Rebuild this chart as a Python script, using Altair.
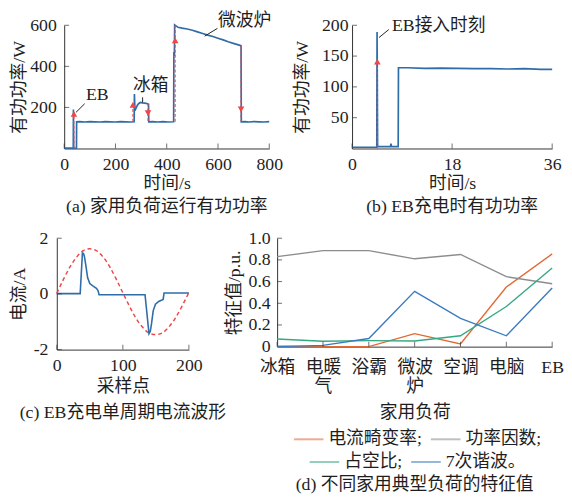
import altair as alt
import pandas as pd

FONT = "Liberation Serif, Noto Sans CJK SC"
TXT = "#1e1e1e"
AXC = "#333333"
BLUE = "#2f6da8"
RED = "#ef4646"
ORANGE = "#e06a35"
GRAY = "#8c8c8c"
GREEN = "#36a882"
BLUE2 = "#3a7bc0"
FS = 18

# ---------------- (a) household load active power ----------------
a_time = [0, 20, 35.5, 36, 37, 48, 48.5, 60, 80, 100, 120, 140, 160, 180, 200, 220, 240, 260, 273,
          274, 276, 280, 285, 290, 297, 305, 315, 325, 329, 330, 345, 365, 385, 405, 427,
          428, 430, 431, 444, 460, 480, 500, 520, 540, 560, 580, 600, 620, 640, 660, 686, 690,
          691, 705, 720, 740, 760, 780, 800]
a_power = [2, 2, 2, 190, 1, 2, 130, 131, 129, 131, 130, 129, 131, 130, 129, 131, 130, 129, 130,
           265, 185, 195, 210, 218, 224, 222, 221, 218, 215, 130, 131, 129, 131, 129, 130,
           470, 450, 602, 590, 586, 582, 576, 568, 560, 552, 545, 537, 529, 520, 512, 502, 500,
           130, 131, 129, 131, 130, 129, 131]
a_xticks = [0, 200, 400, 600, 800]
a_yticks = [200, 400, 600]
a_arrow_t = [38, 268, 327, 433, 690]
a_arrow_from = [0, 130, 220, 130, 500]
a_arrow_to = [175, 225, 130, 600, 130]
a_arrow_head = [168, 212, 172, 527, 190]
a_arrow_shape = ["triangle-up", "triangle-up", "triangle-down", "triangle-up", "triangle-down"]
a_note_text = ["EB", "冰箱", "微波炉"]
a_note_t = [129, 338, 704]
a_note_p = [258, 306, 620]
a_lead_t1 = [46, 306, 548]
a_lead_p1 = [176, 224, 547]
a_lead_t2 = [80, 306, 598]
a_lead_p2 = [218, 249, 585]

# ---------------- (b) EB charging active power ----------------
b_time = [0, 2, 4.45, 4.5, 4.6, 6.9, 7.0, 7.1, 8.3, 8.35, 10, 13, 16, 19, 22, 25, 28, 31, 34, 36]
b_power = [2, 2, 2, 189, 3, 3, 8, 3, 3, 131, 131, 130, 130.5, 130, 129.5, 129.5, 129, 129.5, 128.5, 128.5]
b_xticks = [0, 18, 36]
b_yticks = [50, 100, 150, 200]
b_arrow_t = [4.55]
b_arrow_from = [0]
b_arrow_to = [140]
b_arrow_head = [141]
b_arrow_shape = ["triangle-up"]
b_note_text = ["EB接入时刻"]
b_note_t = [15.6]
b_note_p = [199]
b_lead_t1 = [4.85]
b_lead_p1 = [180]
b_lead_t2 = [6.6]
b_lead_p2 = [193]

# ---------------- (c) EB single-cycle current ----------------
c_sample = [0, 35.4, 38.8, 40.5, 42, 44.2, 46.7, 50, 55, 60, 62.4, 64, 133.6, 139.6, 141.5,
            143.4, 146, 149.4, 154.3, 159.2, 161, 162.4, 200]
c_current = [0.01, 0.01, 1.47, 1.45, 1.32, 0.99, 0.58, 0.37, 0.28, 0.2, 0.12, -0.03, -0.03, -1.43, -1.35,
             -1.07, -0.6, -0.37, -0.27, -0.22, -0.2, 0.03, 0.03]
c_ref_sample = [0, 10, 20, 30, 40, 50, 60, 70, 80, 90, 100, 110, 120, 130, 140, 150, 160, 170, 180, 190, 200]
c_ref_value = [0.02, 0.52, 0.97, 1.32, 1.55, 1.62, 1.55, 1.33, 0.98, 0.53, 0.04, -0.44, -0.88, -1.2,
               -1.41, -1.46, -1.4, -1.18, -0.85, -0.42, 0.05]
c_xticks = [0, 100, 200]
c_yticks = [-2, 0, 2]

# ---------------- (d) feature values ----------------
d_categories = ["冰箱", "电暖气", "浴霸", "微波炉", "空调", "电脑", "EB"]
d_thd = [0.005, 0.0, 0.0, 0.12, 0.025, 0.55, 0.855]      # 电流畸变率
d_pf = [0.83, 0.885, 0.885, 0.81, 0.85, 0.645, 0.58]     # 功率因数
d_duty = [0.07, 0.05, 0.055, 0.052, 0.1, 0.37, 0.726]    # 占空比
d_h7 = [0.0, 0.012, 0.075, 0.51, 0.26, 0.1, 0.54]        # 7次谐波
d_yticks = [0, 0.2, 0.4, 0.6, 0.8, 1.0]


def inward_ticks(xvals, y0, x0, yvals, xenc, yenc):
    dx = pd.DataFrame({"t": xvals, "p": [y0] * len(xvals)})
    dy = pd.DataFrame({"t": [x0] * len(yvals), "p": yvals})
    tx = alt.Chart(dx).mark_tick(orient="vertical", size=5, thickness=1, yOffset=-2.5,
                                 color=AXC).encode(x=xenc, y=yenc)
    ty = alt.Chart(dy).mark_tick(orient="horizontal", size=5, thickness=1, xOffset=2.5,
                                 color=AXC).encode(x=xenc, y=yenc)
    return [tx, ty]


def power_panel(time, power, xdom, ydom, xticks, yticks, arrows, notes, leads,
                w, h, ylp, ytp, caption):
    xenc = alt.X("t:Q", scale=alt.Scale(domain=xdom, nice=False, zero=False),
                 axis=alt.Axis(values=xticks, title="时间/s", labelPadding=7, titlePadding=2))
    yenc = alt.Y("p:Q", scale=alt.Scale(domain=ydom, nice=False),
                 axis=alt.Axis(values=yticks, title="有功功率/W", labelPadding=ylp, titlePadding=ytp))
    line = alt.Chart(pd.DataFrame({"t": time, "p": power})).mark_line(
        color=BLUE, strokeWidth=1.7).encode(x=xenc, y=yenc)
    at, af, ato, ah, ash = arrows
    dash = alt.Chart(pd.DataFrame({"t": at, "p": af, "p2": ato})).mark_rule(
        color=RED, strokeDash=[3, 2], strokeWidth=1.2, opacity=0.9).encode(x=xenc, y=yenc, y2="p2:Q")
    heads = alt.Chart(pd.DataFrame({"t": at, "p": ah, "shape": ash})).mark_point(
        filled=True, size=45, opacity=1, color=RED).encode(
        x=xenc, y=yenc, shape=alt.Shape("shape:N", scale=None))
    nt, ntt, ntp = notes
    text = alt.Chart(pd.DataFrame({"t": ntt, "p": ntp, "label": nt})).mark_text(
        font=FONT, fontSize=FS, color=TXT, align="center", baseline="middle").encode(
        x=xenc, y=yenc, text="label:N")
    lt1, lp1, lt2, lp2 = leads
    lead = alt.Chart(pd.DataFrame({"t": lt1, "p": lp1, "t2": lt2, "p2": lp2})).mark_rule(
        color="#222222", strokeWidth=1).encode(x=xenc, y=yenc, x2="t2:Q", y2="p2:Q")
    layers = [line] + inward_ticks(xticks, ydom[0], xdom[0], yticks, xenc, yenc) + [dash, heads, lead, text]
    return alt.layer(*layers).properties(
        width=w, height=h, title=alt.Title(caption, orient="bottom", offset=5))


panel_a = power_panel(a_time, a_power, [0, 800], [0, 600], a_xticks, a_yticks,
                      (a_arrow_t, a_arrow_from, a_arrow_to, a_arrow_head, a_arrow_shape),
                      (a_note_text, a_note_t, a_note_p),
                      (a_lead_t1, a_lead_p1, a_lead_t2, a_lead_p2),
                      208, 125, 8, 1, "(a) 家用负荷运行有功功率")
panel_b = power_panel(b_time, b_power, [0, 36], [0, 200], b_xticks, b_yticks,
                      (b_arrow_t, b_arrow_from, b_arrow_to, b_arrow_head, b_arrow_shape),
                      (b_note_text, b_note_t, b_note_p),
                      (b_lead_t1, b_lead_p1, b_lead_t2, b_lead_p2),
                      203, 125, 4, 10, "(b) EB充电时有功功率")

# ----- (c)  (plot area starts 7.5px left of the column origin)
xc = alt.X("t:Q", scale=alt.Scale(domain=[0, 200], nice=False, zero=False, range=[-7.5, 126.5]),
           axis=alt.Axis(values=c_xticks, title="采样点", labelPadding=7.5, titlePadding=3))
yc = alt.Y("p:Q", scale=alt.Scale(domain=[-2, 2], nice=False),
           axis=alt.Axis(values=c_yticks, title="电流/A", labelPadding=9, titlePadding=5, offset=7.5,
                         labelExpr="replace(datum.label, '\u2212', '-')"))
c_ref = alt.Chart(pd.DataFrame({"t": c_ref_sample, "p": c_ref_value})).mark_line(
    color=RED, strokeDash=[4, 3], strokeWidth=1.5, interpolate="monotone").encode(x=xc, y=yc)
c_wave = alt.Chart(pd.DataFrame({"t": c_sample, "p": c_current})).mark_line(
    color=BLUE, strokeWidth=1.6).encode(x=xc, y=yc)
panel_c = alt.layer(*([c_ref, c_wave] + inward_ticks(c_xticks, -2, 0, c_yticks, xc, yc))).properties(
    width=126.5, height=113,
    title=alt.Title("(c) EB充电单周期电流波形", orient="bottom", offset=8.5, dx=-3.75))

# ----- (d)
xd = alt.X("t:N", scale=alt.Scale(type="point", domain=d_categories, padding=0),
           sort=d_categories,
           axis=alt.Axis(values=d_categories, title="家用负荷", labelAngle=0, labelPadding=12,
                         titlePadding=8, labelBaseline="top", labelLineHeight=20,
                         labelExpr="datum.label == '电暖气' ? ['电暖', '气'] : datum.label == '微波炉' ? ['微波', '炉'] : datum.label"))
yd = alt.Y("p:Q", scale=alt.Scale(domain=[0, 1], nice=False),
           axis=alt.Axis(values=d_yticks, title="特征值/p.u.", labelPadding=7, titlePadding=5,
                         labelExpr="datum.value == 0 ? '0' : format(datum.value, '.1f')"))

rows1 = []
for name, vals in (("电流畸变率", d_thd), ("功率因数", d_pf)):
    for c, v in zip(d_categories, vals):
        rows1.append({"t": c, "p": v, "s": name})
rows2 = []
for name, vals in (("占空比", d_duty), ("7次谐波", d_h7)):
    for c, v in zip(d_categories, vals):
        rows2.append({"t": c, "p": v, "s": name})

leg_common = dict(orient="none", direction="horizontal", title=None, symbolType="stroke",
                  symbolSize=900, symbolStrokeWidth=2, symbolOpacity=0.55, labelFont=FONT,
                  labelFontSize=FS, labelColor=TXT, labelOffset=4, columnPadding=4, padding=0)
d1 = alt.Chart(pd.DataFrame(rows1)).mark_line(strokeWidth=1.4).encode(
    x=xd, y=yd,
    color=alt.Color("s:N", scale=alt.Scale(domain=["电流畸变率", "功率因数"], range=[ORANGE, GRAY]),
                    legend=alt.Legend(legendX=16, legendY=188, labelExpr="datum.label + ';'",
                                      **leg_common)))
d2 = alt.Chart(pd.DataFrame(rows2)).mark_line(strokeWidth=1.4).encode(
    x=xd, y=yd,
    color=alt.Color("s:N", scale=alt.Scale(domain=["占空比", "7次谐波"], range=[GREEN, BLUE2]),
                    legend=alt.Legend(legendX=32, legendY=211,
                                      labelExpr="datum.label == '占空比' ? '占空比;' : '7次谐波。'",
                                      **leg_common)))
panel_d = alt.layer(*([d1, d2] + inward_ticks(d_categories, 0, d_categories[0], d_yticks[1:], xd, yd))).resolve_scale(
    color="independent").resolve_legend(color="independent").properties(
    width=279, height=110, title=alt.Title("(d) 不同家用典型负荷的特征值", orient="bottom", offset=5))

row1 = alt.hconcat(panel_a, panel_b, spacing=84, bounds="flush")
row2 = alt.hconcat(panel_c, panel_d, spacing=89, bounds="flush")

chart = alt.concat(row1, row2, columns=1, spacing=14).properties(
    padding={"left": 2, "top": 0, "right": 0, "bottom": 0}
).configure_axis(
    labelFont=FONT, labelFontSize=FS, labelColor=TXT, titleFont=FONT, titleFontSize=FS,
    titleFontWeight="normal", titleColor=TXT, domainColor=AXC, domainWidth=1, ticks=False,
    grid=False, labelFlush=False, labelOverlap=False
).configure_view(stroke=None).configure_title(
    font=FONT, fontSize=FS, fontWeight="normal", color=TXT, anchor="middle"
)

chart.save("out.html", embed_options={"renderer": "svg", "actions": False})
